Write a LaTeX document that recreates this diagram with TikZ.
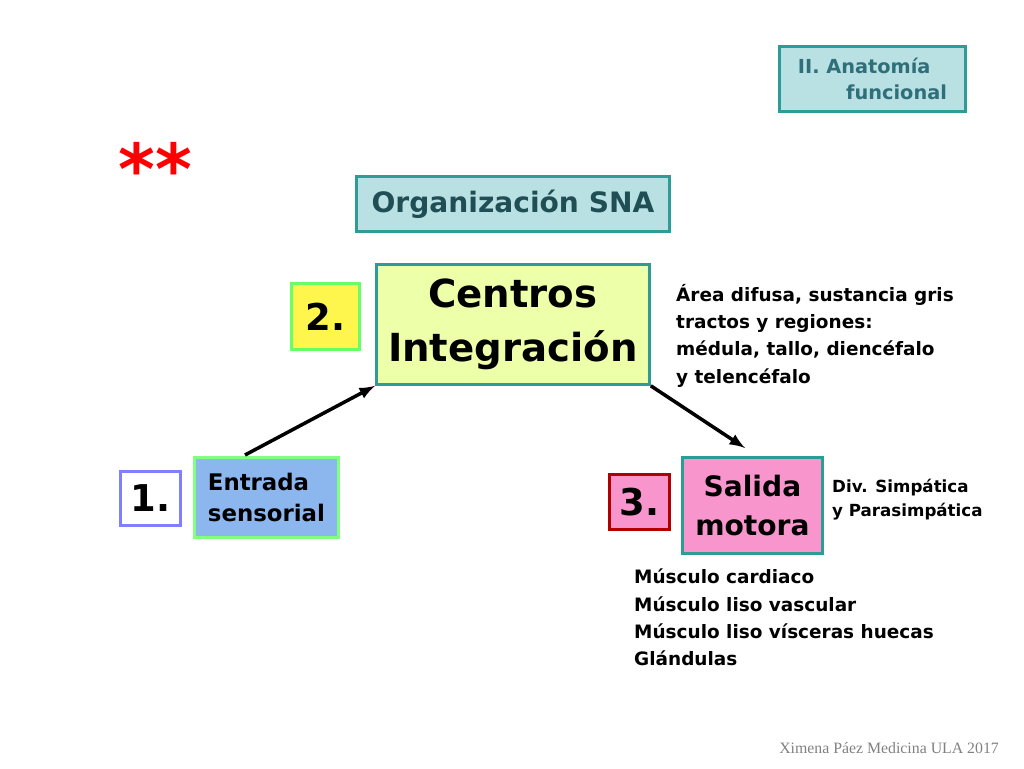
\documentclass[tikz,border=0pt]{standalone}
\usepackage{fontspec}
\setmainfont{DejaVu Sans}
\newfontfamily\footfont{Liberation Serif}
\usetikzlibrary{positioning}
\definecolor{tealbox}{HTML}{B9E0E2}
\definecolor{tealline}{HTML}{2E9C96}
\definecolor{tealtext}{HTML}{2E6F7A}
\definecolor{greenbox}{HTML}{EEFFAA}
\definecolor{bluebox}{HTML}{8CB6EE}
\definecolor{pinkbox}{HTML}{F895CC}
\tikzset{
  panel/.style={draw=#1, line width=1.6pt, inner sep=0pt, anchor=north west},
  num/.style={font=\bfseries\fontsize{21}{24}\selectfont},
  side/.style={align=left, anchor=north west, font=\bfseries\fontsize{10.5}{15.5}\selectfont},
  link/.style={line width=2pt, -latex}
}
\begin{document}
\begin{tikzpicture}[x=0.02cm, y=-0.02cm]
\useasboundingbox (0,0) rectangle (1024,768);

\node[panel=tealline, fill=tealbox, minimum width=186*0.02cm, minimum height=65*0.02cm,
  align=left, text=tealtext, font=\bfseries\fontsize{11}{15}\selectfont] (anat) at (778,45)
  {II. Anatomía\\\hspace{2.5em}funcional};
\node[text=red, font=\bfseries\fontsize{40}{40}\selectfont] (stars) at (155,168) {**};
\node[panel=tealline, fill=tealbox, minimum width=313*0.02cm, minimum height=55*0.02cm,
  text=tealtext!70!black, font=\bfseries\fontsize{16}{18}\selectfont] (org) at (355,175) {Organización SNA};

\node[panel=green!60, fill=yellow!70, minimum width=68*0.02cm, minimum height=66*0.02cm, num] (n2) at (290,282) {2.};
\node[panel=tealline, fill=greenbox, minimum width=273*0.02cm, minimum height=120*0.02cm,
  align=center, font=\bfseries\fontsize{22}{31}\selectfont] (cent) at (375,263) {Centros\\Integración};
\node[side] (area) at (670,278) {Área difusa, sustancia gris\\tractos y regiones:\\médula, tallo, diencéfalo\\y telencéfalo};

\node[panel=blue!50, fill=white, minimum width=60*0.02cm, minimum height=54*0.02cm, num] (n1) at (119,470) {1.};
\node[panel=green!50, fill=bluebox, minimum width=144*0.02cm, minimum height=80*0.02cm,
  align=left, font=\bfseries\fontsize{13}{18}\selectfont] (ent) at (193,456) {Entrada\\sensorial};

\node[panel=red!70!black, fill=pinkbox, minimum width=60*0.02cm, minimum height=55*0.02cm, num] (n3) at (608,473) {3.};
\node[panel=tealline, fill=pinkbox, minimum width=140*0.02cm, minimum height=96*0.02cm,
  align=center, font=\bfseries\fontsize{16}{22}\selectfont] (sal) at (681,456) {Salida\\motora};
\node[side, font=\bfseries\fontsize{9.5}{13.5}\selectfont] (div) at (826,473) {Div. Simpática\\y Parasimpática};
\node[side] (musc) at (628,563) {Músculo cardiaco\\Músculo liso vascular\\Músculo liso vísceras huecas\\Glándulas};

\node[anchor=south east, text=gray, font=\footfont\fontsize{9}{10}\selectfont] (foot) at (1005,760) {Ximena Páez Medicina ULA 2017};

\coordinate (a1) at (245,455);
\coordinate (a2) at (745,448);
\draw[link] (a1) -- (cent.south west);
\draw[link] (cent.south east) -- (a2);
\end{tikzpicture}
\end{document}
